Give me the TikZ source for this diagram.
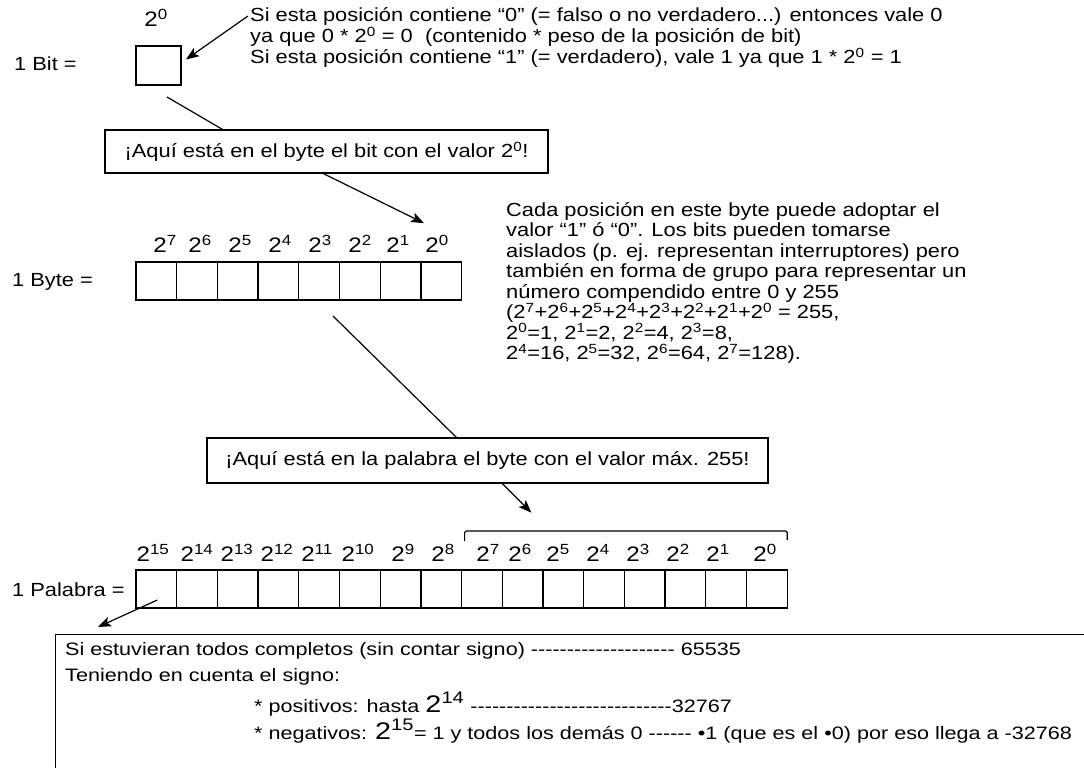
\documentclass[tikz,border=0pt]{standalone}
\usepackage{fontspec}
\setmainfont{Liberation Sans}[FakeStretch=1.15,Ligatures=TeXOff]
\newfontfamily\widefont{Liberation Sans}[FakeStretch=1.2,Ligatures=TeXOff]
\usetikzlibrary{arrows.meta,calc}
\newcommand\ex[1]{\textsuperscript{#1}}
\begin{document}
\begin{tikzpicture}[x=1pt,y=-1pt,
  cell/.style={minimum width=40.7pt,minimum height=38pt,inner sep=0pt,outer sep=0pt},
  grid/.style={line width=1.3pt},
  callout/.style={draw,line width=1.3pt,inner sep=0pt,font=\fontsize{19}{21}\selectfont},
  pow/.style={inner sep=0pt,font=\fontsize{21}{21}\selectfont},
  body/.style={inner sep=0pt,font=\fontsize{19}{21}\selectfont},
  small/.style={inner sep=0pt,font=\widefont\fontsize{18}{20}\selectfont},
  link/.style={line width=1.2pt},
  arr/.style={line width=1.2pt,-{Stealth[length=13pt,width=10pt,inset=3pt]}}]
\useasboundingbox (0,0) rectangle (1084,768);
\clip (0,0) rectangle (1084,768);
\fill[white] (0,0) rectangle (1084,768);

% ---- one bit ----
\node[cell,draw,line width=1.3pt,minimum width=45pt,minimum height=39pt] (bitcell) at (158.5,65.5) {};
\node[pow] (bitpow) at (156,18) {2\ex{0}};
\node[body,anchor=west] (lbit) at (14,64) {1 Bit =};
\node[body,anchor=west] (t1) at (250,16) {Si esta posición contiene “0” (= falso o no verdadero...) entonces vale 0};
\node[body,anchor=west] (t2) at (250,37) {ya que 0 * 2\ex{0} = 0\ \ (contenido * peso de la posición de bit)};
\node[body,anchor=west] (t3) at (250,58) {Si esta posición contiene “1” (= verdadero), vale 1 ya que 1 * 2\ex{0} = 1};
\draw[arr] ([xshift=-2pt]t1.west) -- ($(bitcell.east)+(5,-6)$);

% ---- first callout ----
\node[callout,minimum width=443pt,minimum height=43pt] (call1) at (326.5,151.5) {¡Aquí está en el byte el bit con el valor 2\ex{0}!};
\coordinate (bitlink) at (167,97);
\draw[link] (bitlink) -- ($(call1.north west)+(118,0)$);

% ---- one byte ----
\foreach \i in {1,...,8}
  \node[cell] (byte\i) at ({136+40.7*(\i-0.5)},281) {};
\draw[grid] (byte1.north west) rectangle (byte8.south east);
\foreach \i in {1,...,7}
  \draw[grid] (byte\i.north east) -- (byte\i.south east);
\foreach \x/\e [count=\i] in {165/7,200/6,240/5,280/4,320/3,360/2,398/1,437/0}
  \node[pow] (bl\i) at (\x,244) {2\ex{\e}};
\node[body,anchor=west] (lbyte) at (12,282) {1 Byte =};
\draw[arr] ($(call1.south)+(-3,0)$) -- ($(call1.south)+(97.5,49.5)$);

\node[body,anchor=north west,align=left,font=\fontsize{19}{20.5}\selectfont] (para) at (506,202)
 {Cada posición en este byte puede adoptar el\\
  valor “1” ó “0”. Los bits pueden tomarse\\
  aislados (p. ej. representan interruptores) pero\\
  también en forma de grupo para representar un\\
  número compendido entre 0 y 255\\
  (2\ex{7}+2\ex{6}+2\ex{5}+2\ex{4}+2\ex{3}+2\ex{2}+2\ex{1}+2\ex{0} = 255,\\
  2\ex{0}=1, 2\ex{1}=2, 2\ex{2}=4, 2\ex{3}=8,\\
  2\ex{4}=16, 2\ex{5}=32, 2\ex{6}=64, 2\ex{7}=128).};

% ---- second callout ----
\node[callout,minimum width=561pt,minimum height=45pt] (call2) at (487.5,460.5) {¡Aquí está en la palabra el byte con el valor máx. 255!};
\coordinate (bytelink) at (333,316);
\draw[link] (bytelink) -- ($(call2.north west)+(250,0)$);

% ---- one word ----
\foreach \i in {1,...,16}
  \node[cell] (word\i) at ({136+40.7*(\i-0.5)},589) {};
\draw[grid] (word1.north west) rectangle (word16.south east);
\foreach \i in {1,...,15}
  \draw[grid] (word\i.north east) -- (word\i.south east);
\foreach \x/\e [count=\i] in {153/15,197/14,237/13,277/12,317/11,358/10,403/9,443/8,488/7,520/6,558/5,598/4,638/3,678/2,718/1,765/0}
  \node[pow] (wl\i) at (\x,553) {2\ex{\e}};
\node[body,anchor=west] (lword) at (12,590) {1 Palabra =};
\draw[link,rounded corners=1.5pt] ($(word9.north west)+(3,-29)$) -- ($(word9.north west)+(3,-39)$)
  -- ($(word16.north east)+(0,-39)$) -- ($(word16.north east)+(0,-30)$);
\draw[arr] ($(call2.south west)+(296,0)$) -- ($(call2.south west)+(325,29)$);

% ---- range of a word ----
\node[draw,line width=1.3pt,anchor=north west,minimum width=1100pt,minimum height=200pt,inner sep=0pt] (range) at (55,634) {};
\draw[arr] ($(word1.center)+(1,11)$) -- ($(range.north west)+(43,-7)$);
\node[small,anchor=west] (r1) at (65,651) {Si estuvieran todos completos (sin contar signo) -------------------- 65535};
\node[small,anchor=west] (r2) at (65,677) {Teniendo en cuenta el signo:};
\node[small,anchor=west] (r3) at (254,704) {* positivos: hasta {\fontsize{24}{24}\selectfont 2\ex{14}} ----------------------------32767};
\node[small,anchor=west] (r4) at (254,731) {* negativos: {\fontsize{24}{24}\selectfont 2\ex{15}}= 1 y todos los demás 0 ------ •1 (que es el •0) por eso llega a -32768};
\end{tikzpicture}
\end{document}
